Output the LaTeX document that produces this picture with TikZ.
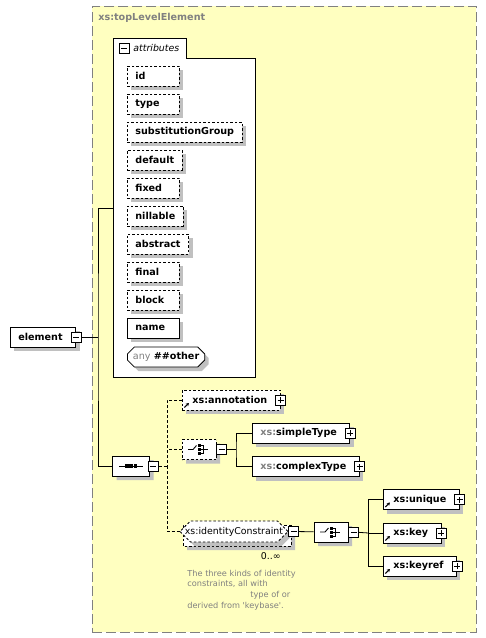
\documentclass[tikz,border=0pt]{standalone}
\usepackage{fontspec}
\setmainfont{DejaVu Sans}
\usetikzlibrary{positioning, arrows.meta, shapes.misc, shadows}

\definecolor{groupbg}{HTML}{FFFFC0}
\definecolor{groupline}{HTML}{808080}
\definecolor{dimtext}{HTML}{808080}
\definecolor{shadowgray}{HTML}{C0C0C0}

\newcommand{\bft}{\fontsize{9.6pt}{11pt}\selectfont\bfseries}
\newcommand{\rgt}{\fontsize{9.4pt}{11pt}\selectfont}
\newcommand{\xsp}{{\color{dimtext}xs:}}
\newsavebox{\attrbox}
\newcommand{\attrtext}[1]{\sbox{\attrbox}{#1}\ifdim\wd\attrbox<36pt\makebox[36pt][l]{#1}\else\usebox{\attrbox}\fi}

\begin{document}
\begin{tikzpicture}[x=1pt, y=-1pt, line width=0.8pt,
    % Shadow under boxes
    boxshadow/.style={
        drop shadow={shadow xshift=4pt, shadow yshift=-4pt, opacity=1, fill=shadowgray}
    },
    % Attribute box style
    attr/.style={
        rectangle,
        draw=black,
        dash pattern=on 2.5pt off 2pt,
        fill=white,
        minimum height=20pt,
        inner xsep=8pt,
        inner ysep=0pt,
        anchor=west,
        font=\bft,
        boxshadow
    },
    % Element box style
    elembox/.style={
        rectangle,
        draw=black,
        fill=white,
        minimum height=20pt,
        inner xsep=8pt,
        inner ysep=0pt,
        anchor=west,
        font=\bft,
        execute at end node=\hspace{5pt},
        boxshadow
    },
    % Reference box style
    refbox/.style={
        elembox,
        execute at begin node=\hspace{2pt},
        path picture={
            \draw[black, solid, -{Stealth[length=3pt,width=3.5pt]}, line width=1.1pt]
                ([shift={(2pt,2.5pt)}]path picture bounding box.south west) -- ++(4.5pt,4.5pt);
        }
    },
    % Compositor (octagon) style
    octa/.style={
        chamfered rectangle,
        chamfered rectangle sep=5pt,
        draw=black,
        fill=white,
        minimum height=20pt,
        inner sep=0pt,
        boxshadow
    },
    % Sequence icon
    seqicon/.style={
        path picture={
            \coordinate (pc) at (path picture bounding box.center);
            \draw[black, solid, line width=0.9pt] ([xshift=-12pt]pc) -- ([xshift=12pt]pc);
            \fill[black] ([shift={(-6pt,-1.75pt)}]pc) rectangle +(3.5pt,3.5pt);
            \fill[black] ([shift={(-1.75pt,-1.75pt)}]pc) rectangle +(3.5pt,3.5pt);
            \fill[black] ([shift={(2.5pt,-1.75pt)}]pc) rectangle +(3.5pt,3.5pt);
        }
    },
    % Choice icon
    choicon/.style={
        path picture={
            \coordinate (pc) at (path picture bounding box.center);
            \draw[black, solid, line width=0.9pt] ([xshift=-11pt]pc) -- ([xshift=-6pt]pc) -- ([shift={(-2.5pt,4pt)}]pc);
            \fill[black] ([shift={(-1.5pt,2.5pt)}]pc) rectangle +(3pt,3pt);
            \fill[black] ([shift={(-1.5pt,-1.5pt)}]pc) rectangle +(3pt,3pt);
            \fill[black] ([shift={(-1.5pt,-5.5pt)}]pc) rectangle +(3pt,3pt);
            \draw[black, solid, line width=0.9pt] ([shift={(1.5pt,4pt)}]pc) -- ([shift={(4pt,4pt)}]pc)
                -- ([shift={(4pt,-4pt)}]pc) -- ([shift={(1.5pt,-4pt)}]pc);
            \draw[black, solid, line width=0.9pt] ([shift={(1.5pt,0pt)}]pc) -- ([shift={(9pt,0pt)}]pc);
        }
    },
    % Minus / plus box style
    pmbox/.style={
        rectangle,
        draw=black,
        fill=white,
        minimum size=10pt,
        inner sep=0pt,
        line width=0.7pt
    },
    minus/.style={
        pmbox,
        path picture={
            \draw[black] ([xshift=-3pt]path picture bounding box.center) -- ([xshift=3pt]path picture bounding box.center);
        }
    },
    plus/.style={
        pmbox,
        path picture={
            \draw[black] ([xshift=-3pt]path picture bounding box.center) -- ([xshift=3pt]path picture bounding box.center);
            \draw[black] ([yshift=-3pt]path picture bounding box.center) -- ([yshift=3pt]path picture bounding box.center);
        }
    },
    % Connector styles
    conn/.style={draw=black, line width=0.8pt},
    dconn/.style={conn, dash pattern=on 3pt off 2pt}
]

\useasboundingbox (0,0) rectangle (486,638);

% === Group: xs:topLevelElement ===
\node[draw=groupline, dash pattern=on 10pt off 4pt, fill=groupbg, anchor=north west,
      minimum width=384pt, minimum height=626pt, inner sep=0pt] (tle) at (92,6) {};
\node[font=\bft, text=dimtext, anchor=west, inner sep=0pt] (ttl) at (98,18) {xs:topLevelElement};

% === Attributes box ===
\node[anchor=north west, minimum width=142pt, minimum height=339pt, inner sep=0pt] (attrs) at (113,38) {};
\node[anchor=north west, minimum width=73pt, minimum height=20pt, inner sep=0pt] (atab) at (113,38) {};
\draw[fill=white] (attrs.north west) -- (atab.north east) -- (atab.south east)
      -- (atab.south east -| attrs.east) -- (attrs.south east) -- (attrs.south west) -- cycle;
\node[minus] (atabm) at (124,48) {};
\node[anchor=west, inner sep=0pt, font=\rgt\itshape] (atablbl) at (133,48) {attributes};

\node[attr] (aid) at (127,76) {\attrtext{id}};
\node[attr] (atype) at (127,104) {\attrtext{type}};
\node[attr] (asubst) at (127,132) {\attrtext{substitutionGroup}};
\node[attr] (adefault) at (127,160) {\attrtext{default}};
\node[attr] (afixed) at (127,188) {\attrtext{fixed}};
\node[attr] (anillable) at (127,216) {\attrtext{nillable}};
\node[attr] (aabstract) at (127,244) {\attrtext{abstract}};
\node[attr] (afinal) at (127,272) {\attrtext{final}};
\node[attr] (ablock) at (127,300) {\attrtext{block}};
\node[attr, solid] (aname) at (127,328) {\attrtext{name}};
\node[octa, chamfered rectangle sep=3.5pt, inner xsep=2pt, anchor=west, font=\bft]
      (aany) at (127,357) {{\mdseries\color{dimtext}any} \#\#other};

% === Element ===
\node[elembox] (element) at (10,337) {element};
\node[minus] (elemm) at (element.east) {};

% === Sequence ===
\node[octa, seqicon, minimum width=37pt] (seq) at (131,466) {};
\node[minus, right=-2pt of seq] (seqm) {};

% === Sequence children ===
\node[refbox, dash pattern=on 2.5pt off 2pt] (ann) at (182,400) {xs:annotation};
\node[plus] (annp) at (ann.east) {};

\node[octa, choicon, dash pattern=on 2.5pt off 2pt, minimum width=34pt] (cho) at (199,449.5) {};
\node[minus, right=0pt of cho] (chom) {};

\node[elembox] (simple) at (252,433) {\xsp simpleType};
\node[plus] (simplep) at (simple.east) {};
\node[elembox] (complex) at (252,466.5) {\xsp complexType};
\node[plus] (complexp) at (complex.east) {};

% === Identity constraints ===
\node[octa, dash pattern=on 2.5pt off 2pt, minimum width=108pt, minimum height=21pt,
      chamfered rectangle sep=6pt] (idcback) at (237,535.5) {};
\node[octa, dash pattern=on 2.5pt off 2pt, minimum width=108pt, minimum height=21pt,
      chamfered rectangle sep=6pt, drop shadow={opacity=0}, font=\rgt] (idc) at (234,531.5) {xs:identityConstraint};
\node[minus, right=0pt of idc] (idcm) {};
\node[font=\rgt, anchor=east, inner sep=0pt] (idcocc) at (281,556) {0..∞};
\node[font=\fontsize{8.2pt}{10.7pt}\selectfont, text=dimtext, align=left, anchor=north west, inner sep=0pt]
      (idcdoc) at (187,569.5) {The three kinds of identity\\constraints, all with\\\hspace{63pt}type of or\\derived from \textquotesingle keybase\textquotesingle.};

\node[octa, choicon, minimum width=34pt] (cho2) at (331,532) {};
\node[minus, right=0pt of cho2] (cho2m) {};

\node[refbox] (unique) at (383,499.5) {xs:unique};
\node[plus] (uniquep) at (unique.east) {};
\node[refbox] (key) at (383,533) {xs:key};
\node[plus] (keyp) at (key.east) {};
\node[refbox] (keyref) at (383,566) {xs:keyref};
\node[plus] (keyrefp) at (keyref.east) {};

% === Connectors ===
\coordinate (trunk) at (98,337);
\draw[conn] (elemm) -- (trunk);
\draw[conn] (attrs.west) -| (trunk) |- (seq.west);

\coordinate (sbus) at (167,466);
\draw[dconn] (seqm) -- (sbus);
\draw[dconn] (ann.west) -| (sbus);
\draw[dconn] (sbus) |- (idc.west);
\draw[dconn] (cho.west) -- (cho.west -| sbus);

\coordinate (cbus) at (236,449.5);
\draw[conn] (chom) -- (cbus);
\draw[conn] (simple.west) -| (cbus) |- (complex.west);

\draw[conn] (idcm) -- (cho2);
\coordinate (kbus) at (368.5,533);
\draw[conn] (cho2m) -- (kbus);
\draw[conn] (unique.west) -| (kbus) |- (keyref.west);
\draw[conn] (key.west) -- (kbus);

\end{tikzpicture}
\end{document}
